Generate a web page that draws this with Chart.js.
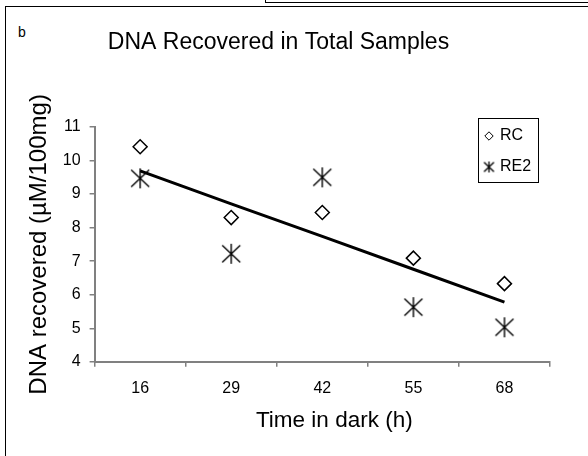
<!DOCTYPE html>
<html>
<head>
<meta charset="utf-8">
<script src="https://cdn.jsdelivr.net/npm/chart.js@4.4.1/dist/chart.umd.min.js"></script>
<style>
  html, body { margin: 0; padding: 0; background: #fff; }
  body { width: 588px; height: 456px; position: relative; overflow: hidden; font-family: 'Liberation Sans', Arial, sans-serif; }
  #frame { position: absolute; left: 5px; top: 6px; width: 700px; height: 600px; border: 1.5px solid #000; }
  #topbox { position: absolute; left: 265px; top: -30px; width: 400px; height: 31px; border: 1.5px solid #000; }
  #panel { position: absolute; left: 18px; top: 24px; font-size: 14px; line-height: 16px; }
  #wrap { position: absolute; left: 0; top: 0; width: 588px; height: 456px; }
</style>
</head>
<body>
<div id="topbox"></div>
<div id="frame"></div>
<div id="panel">b</div>
<div id="wrap"><canvas id="chart" width="588" height="456"></canvas></div>
<script>
// Время в темноте (ч)
const hours = ['16', '29', '42', '55', '68'];
// Значения
const rcValues = [10.41, 8.30, 8.45, 7.09, 6.33];
const re2Values = [9.47, 7.22, 9.50, 5.63, 5.03];
const trendValues = [9.69, 8.71, 7.74, 6.76, 5.78];
const yTicks = [4, 5, 6, 7, 8, 9, 10, 11];

const FONT = "'Liberation Sans', Arial, sans-serif";

// Звёздочка: вертикаль + косой крест
function makeAsterisk(size, lw) {
    const c = document.createElement('canvas');
    const s = Math.ceil(size * 2 + 4);
    c.width = s;
    c.height = s;
    const g = c.getContext('2d');
    const m = s / 2;
    g.strokeStyle = '#000';
    g.lineWidth = lw;
    g.beginPath();
    g.moveTo(m, m - size);
    g.lineTo(m, m + size);
    g.moveTo(m - size * 0.9, m - size * 0.85);
    g.lineTo(m + size * 0.9, m + size * 0.85);
    g.moveTo(m + size * 0.9, m - size * 0.85);
    g.lineTo(m - size * 0.9, m + size * 0.85);
    g.stroke();
    return c;
}

const starBig = makeAsterisk(10, 1.4);
const starSmall = makeAsterisk(5.5, 1.3);

// Заголовок, легенда в рамке и подпись оси X
const extrasPlugin = {
    id: 'extras',
    afterDraw(chart) {
        const ctx = chart.ctx;
        const area = chart.chartArea;
        ctx.save();
        ctx.fillStyle = '#000';
        ctx.textBaseline = 'middle';
        ctx.textAlign = 'center';

        ctx.font = '23px ' + FONT;
        ctx.fillText('DNA Recovered in Total Samples', 278.5, 43);

        ctx.font = '22.5px ' + FONT;
        ctx.fillText('Time in dark (h)', (area.left + area.right) / 2 + 12, 421);

        const bx = area.right - 72, by = area.top - 9, bw = 60, bh = 64;
        ctx.fillStyle = '#fff';
        ctx.fillRect(bx, by, bw, bh);
        ctx.strokeStyle = '#000';
        ctx.lineWidth = 1;
        ctx.strokeRect(bx + 0.5, by + 0.5, bw, bh);

        ctx.fillStyle = '#fff';
        ctx.strokeStyle = '#000';
        Chart.helpers.drawPoint(ctx, { pointStyle: 'rectRot', radius: 4.2, borderWidth: 1.4 }, bx + 11, by + 18);
        ctx.drawImage(starSmall, bx + 11 - starSmall.width / 2, by + 49 - starSmall.height / 2);

        ctx.font = '16px ' + FONT;
        ctx.fillStyle = '#000';
        ctx.textAlign = 'left';
        ctx.fillText('RC', bx + 22, by + 18);
        ctx.fillText('RE2', bx + 22, by + 49);
        ctx.restore();
    }
};

new Chart(document.getElementById('chart'), {
    type: 'line',
    data: {
        labels: hours,
        datasets: [
            {
                label: 'Trend',
                data: trendValues,
                borderColor: '#000',
                borderWidth: 3,
                pointRadius: 0,
                tension: 0,
                fill: false
            },
            {
                label: 'RC',
                data: rcValues,
                showLine: false,
                pointStyle: 'rectRot',
                pointRadius: 7,
                pointBorderWidth: 1.5,
                pointBorderColor: '#000',
                pointBackgroundColor: '#fff'
            },
            {
                label: 'RE2',
                data: re2Values,
                showLine: false,
                pointStyle: starBig,
                pointRadius: 10
            }
        ]
    },
    options: {
        responsive: false,
        animation: false,
        events: [],
        layout: {
            padding: { top: 127, left: 25, right: 38, bottom: 46 }
        },
        scales: {
            x: {
                offset: true,
                grid: {
                    offset: true,
                    drawOnChartArea: false,
                    drawTicks: true,
                    tickLength: 5,
                    color: '#808080',
                    lineWidth: 1.5
                },
                border: { color: '#808080', width: 2 },
                ticks: {
                    color: '#000',
                    padding: 12,
                    font: { family: FONT, size: 16 }
                }
            },
            y: {
                min: 4,
                max: 11,
                afterBuildTicks(scale) {
                    scale.ticks = yTicks.map(v => ({ value: v }));
                },
                grid: {
                    drawOnChartArea: false,
                    drawTicks: true,
                    tickLength: 5,
                    color: '#808080',
                    lineWidth: 1.5
                },
                border: { color: '#808080', width: 2 },
                ticks: {
                    color: '#000',
                    padding: 9,
                    font: { family: FONT, size: 16 }
                },
                title: {
                    display: true,
                    text: 'DNA recovered (µM/100mg)',
                    color: '#000',
                    padding: 0,
                    font: { family: FONT, size: 24, weight: 'normal' }
                }
            }
        },
        plugins: {
            legend: { display: false },
            tooltip: { enabled: false },
            title: { display: false }
        }
    },
    plugins: [extrasPlugin]
});
</script>
</body>
</html>
